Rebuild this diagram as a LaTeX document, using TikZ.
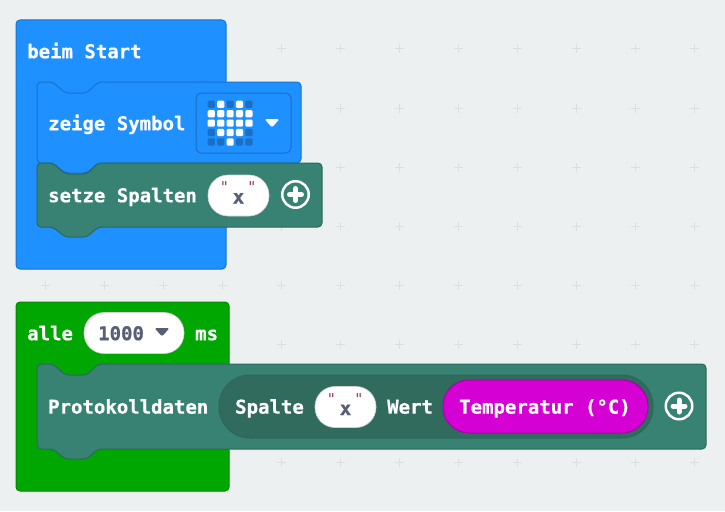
\documentclass[tikz,border=0pt]{standalone}
\usepackage{fontspec}
\setmonofont[BoldFeatures={FakeBold=0.6}]{DejaVu Sans Mono}
\definecolor{bgc}{HTML}{ECF0F1}
\definecolor{gridc}{HTML}{DADFE1}
\definecolor{bluec}{HTML}{1E90FF}
\definecolor{blueb}{HTML}{1873CC}
\definecolor{greenc}{HTML}{00A700}
\definecolor{greenb}{HTML}{008600}
\definecolor{tealc}{HTML}{378273}
\definecolor{tealb}{HTML}{2C6859}
\definecolor{capc}{HTML}{306B5E}
\definecolor{magc}{HTML}{D400D4}
\definecolor{magb}{HTML}{A800A8}
\definecolor{inkc}{HTML}{575E75}
\definecolor{ledoff}{HTML}{1A6FC4}
\definecolor{quotec}{HTML}{A03A6A}
\tikzset{
  x=1pt,y=-1pt,
  blocklabel/.style={anchor=base west,inner sep=0pt,text=white,font=\fontsize{19}{19}\ttfamily\bfseries},
  inklabel/.style={anchor=base,inner sep=0pt,text=inkc,font=\fontsize{19}{19}\ttfamily\bfseries},
  pill/.style={fill=white,draw=black!18,line width=.6pt,rounded corners=20pt,inner sep=0pt,minimum width=61pt,minimum height=41pt},
  quotemark/.style={anchor=center,inner sep=0pt,text=quotec,font=\fontsize{15}{15}\ttfamily},
  plusring/.style={circle,draw=white,line width=2.5pt,minimum size=26.5pt,inner sep=0pt},
  pluscross/.style={draw=white,line width=5pt,line cap=round},
  hat/.style={rounded corners=4pt,line width=1pt},
  led/.style={rounded corners=1.2pt},
  gridmark/.style={draw=gridc,line width=1pt},
}
\newcommand{\stackblock}[5]{% x1 x2 ytop ybot style
  \path[hat,#5] (#1,#3) -- (#1+16,#3) -- (#1+28,#3+11) -- (#1+50,#3+11) -- (#1+61,#3) -- (#2,#3)
    -- (#2,#4) -- (#1+61,#4) -- (#1+50,#4+10) -- (#1+28,#4+10) -- (#1+16,#4) -- (#1,#4) -- cycle;}
\newcommand{\plusicon}[3]{% name x y
  \node[plusring] (#1) at (#2,#3) {};
  \draw[pluscross] (#2-6,#3) -- (#2+6,#3);
  \draw[pluscross] (#2,#3-6) -- (#2,#3+6);}
\newcommand{\dropmark}[3]{% x y colour
  \fill[#3,rounded corners=1.5pt] (#1-7.5,#2-4) -- (#1+7.5,#2-4) -- (#1,#2+4.5) -- cycle;}
\begin{document}
\begin{tikzpicture}
\useasboundingbox (0,0) rectangle (725,511);
\fill[bgc] (0,0) rectangle (725,511);
% grid
\foreach \gy in {49,108,167,226,285,344,403,462}
  \foreach \gx in {45,104,163,222,281,340,399,458,517,576,635,694}
    \draw[gridmark] (\gx-4.5,\gy) -- (\gx+4.5,\gy) (\gx,\gy-4.5) -- (\gx,\gy+4.5);
% blue hat
\path[hat,fill=bluec,draw=blueb] (16,20) -- (226,20) -- (226,100) -- (120,100) -- (120,215) -- (226,215) -- (226,269) -- (16,269) -- cycle;
\node[blocklabel] (start) at (27,58.2) {beim Start};
% zeige Symbol
\stackblock{37}{301}{82}{163}{fill=bluec,draw=blueb}
\node[blocklabel] (zeige) at (48,130.2) {zeige Symbol};
\path[rounded corners=5pt,draw=ledoff,line width=1pt,fill=bluec] (196,93) rectangle (291,153);
\foreach \row [count=\j from 0] in {{0,1,0,1,0},{1,1,1,1,1},{1,1,1,1,1},{0,1,1,1,0},{0,0,1,0,0}}
  \foreach \v [count=\i from 0] in \row {
    \pgfmathsetmacro{\cx}{211.3+9.4*\i}
    \pgfmathsetmacro{\cy}{104.3+9.4*\j}
    \ifnum\v=1 \fill[led,white] (\cx-3.6,\cy-3.6) rectangle (\cx+3.6,\cy+3.6);
    \else \fill[led,ledoff] (\cx-3.6,\cy-3.6) rectangle (\cx+3.6,\cy+3.6); \fi
  }
\dropmark{272}{123}{white}
% setze Spalten
\stackblock{37}{322}{163}{227}{fill=tealc,draw=tealb}
\node[blocklabel] (setze) at (48,202.2) {setze Spalten};
\node[pill] (pillA) at (238.5,195.5) {};
\node[inklabel] (xA) at (238.5,203.5) {x};
\node[quotemark] (qA1) at (224.5,187.5) {"};
\node[quotemark] (qA2) at (252,187.5) {"};
\plusicon{plusA}{295.5}{194.5}
% green hat
\path[hat,fill=greenc,draw=greenb] (16,302) -- (229,302) -- (229,382) -- (120,382) -- (120,437) -- (229,437) -- (229,491) -- (16,491) -- cycle;
\node[blocklabel] (alle) at (27,340.2) {alle};
\node[pill,minimum width=100pt,minimum height=41pt] (pillB) at (134,333) {};
\node[inklabel,anchor=base west] (num) at (98,340.2) {1000};
\dropmark{162}{332}{inkc}
\node[blocklabel] (ms) at (195,340.2) {ms};
% Protokolldaten
\stackblock{37}{706}{364}{449}{fill=tealc,draw=tealb}
\node[blocklabel] (proto) at (48,413.6) {Protokolldaten};
\node[fill=capc,draw=tealb,line width=1pt,rounded corners=31pt,minimum width=434pt,minimum height=63pt,inner sep=0pt] (cap) at (436,406.5) {};
\node[blocklabel] (spalte) at (235,413.6) {Spalte};
\node[pill] (pillC) at (345.5,407) {};
\node[inklabel] (xC) at (345.5,415) {x};
\node[quotemark] (qC1) at (331.5,399) {"};
\node[quotemark] (qC2) at (359,399) {"};
\node[blocklabel] (wert) at (387,413.6) {Wert};
\node[fill=magc,draw=magb,line width=1pt,rounded corners=26pt,minimum width=205pt,minimum height=53pt,inner sep=0pt] (temp) at (545.5,406.5) {};
\node[blocklabel] (temptext) at (459,413.6) {Temperatur (°C)};
\plusicon{plusB}{679}{406}
\end{tikzpicture}
\end{document}
